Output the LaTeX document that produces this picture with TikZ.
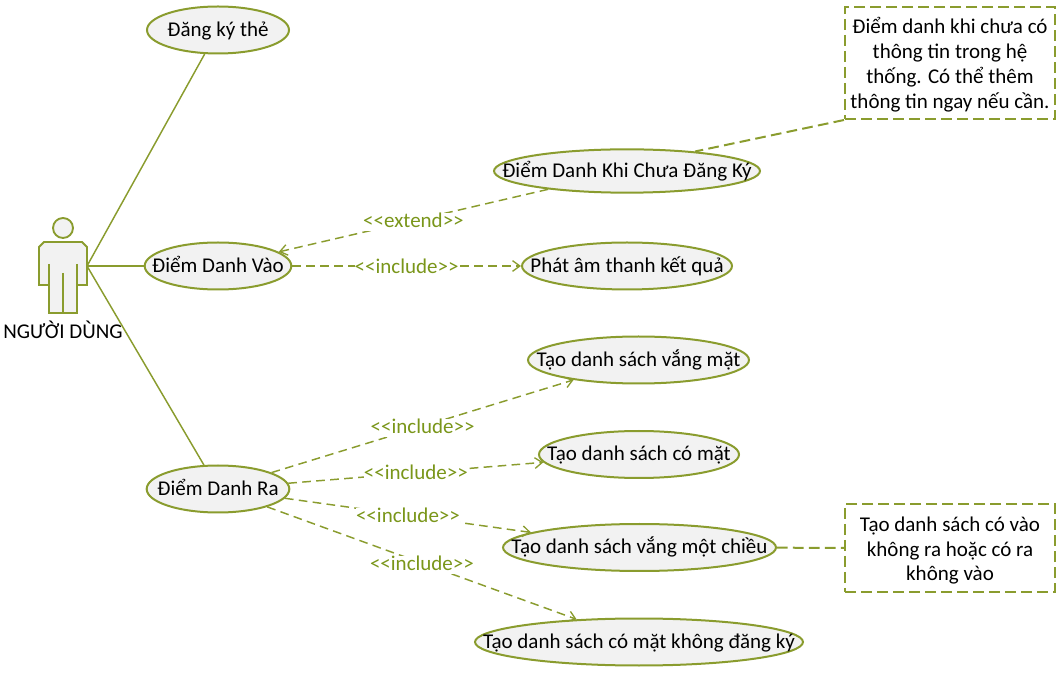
\documentclass[tikz,border=0pt]{standalone}
\usepackage{fontspec}
\setmainfont{Carlito}
\usetikzlibrary{shapes.geometric,arrows.meta}
\definecolor{oliveline}{HTML}{8A9C2E}
\definecolor{olivetext}{HTML}{7A961A}
\definecolor{usefill}{HTML}{F2F2F2}
\newcommand{\uctext}[1]{\makebox[0pt]{\smash{\raisebox{-4.6pt}{#1}}}}
\newcommand{\rltext}[1]{\vphantom{Đgý}#1}
\newcommand{\firstline}{\rule{0pt}{15pt}}
\tikzset{
  usecase/.style={ellipse,draw=oliveline,fill=usefill,line width=1.5pt,inner sep=0pt,minimum height=35.25pt,font=\fontsize{15.75}{18}\selectfont},
  notebox/.style={draw=oliveline,line width=1.5pt,dash pattern=on 8pt off 4pt,fill=white,inner sep=0pt,align=center,font=\fontsize{15.75}{18.6}\selectfont},
  assoc/.style={draw=oliveline,line width=1.1pt},
  rel/.style={draw=oliveline,line width=1.1pt,dash pattern=on 6.5pt off 4pt,-{Straight Barb[length=5.5pt,width=8pt,line width=1pt]}},
  notelink/.style={draw=oliveline,line width=1.5pt,dash pattern=on 8pt off 4pt},
  rellabel/.style={midway,yshift=-1.2pt,fill=white,text=olivetext,inner sep=0pt,font=\fontsize{15.75}{18}\selectfont},
  actorpart/.style={draw=oliveline,line width=1.4pt,fill=usefill,line join=miter}
}
\begin{document}
\begin{tikzpicture}[x=0.75pt,y=-0.75pt]
\useasboundingbox (0,0) rectangle (1061,673);
% actor
\node[circle,actorpart,minimum size=15pt,inner sep=0pt] (head) at (63,228) {};
\draw[actorpart] (44,242) -- (82,242) -- (87,247) -- (87,285) -- (77,285) -- (77,313) -- (49,313) -- (49,285) -- (39,285) -- (39,247) -- cycle;
\draw[actorpart] (49,264) -- (49,285) (77,264) -- (77,285) (63,273) -- (63,313);
\coordinate (hand) at (87,266);
\node[font=\fontsize{15.75}{18}\selectfont,inner sep=0pt] (actorname) at (63,330) {NGƯỜI DÙNG};
% use cases
\node[usecase,minimum width=106.5pt] (dangky) at (218,30) {\uctext{Đăng ký thẻ}};
\node[usecase,minimum width=110pt] (vao) at (218,266) {\uctext{Điểm Danh Vào}};
\node[usecase,minimum width=107pt] (ra) at (218,489) {\uctext{Điểm Danh Ra}};
\node[usecase,minimum width=199.5pt,minimum height=32.5pt] (chuadk) at (627,171) {\uctext{Điểm Danh Khi Chưa Đăng Ký}};
\node[usecase,minimum width=157.5pt] (phatam) at (627,266) {\uctext{Phát âm thanh kết quả}};
\node[usecase,minimum width=165.75pt] (vang) at (638.5,360) {\uctext{Tạo danh sách vắng mặt}};
\node[usecase,minimum width=150pt] (comat) at (639,454.5) {\uctext{Tạo danh sách có mặt}};
\node[usecase,minimum width=204.75pt] (motchieu) at (639.5,547.5) {\uctext{Tạo danh sách vắng một chiều}};
\node[usecase,minimum width=246pt] (khongdk) at (639,642) {\uctext{Tạo danh sách có mặt không đăng ký}};
% notes
\node[notebox,minimum width=157.5pt,minimum height=84pt] (note1) at (950,63) {\firstline Điểm danh khi chưa có\\thông tin trong hệ\\thống. Có thể thêm\\thông tin ngay nếu cần.};
\node[notebox,minimum width=157.5pt,minimum height=66pt] (note2) at (950,548) {\firstline Tạo danh sách có vào\\không ra hoặc có ra\\không vào};
% associations
\draw[assoc] (hand) -- (dangky);
\draw[assoc] (hand) -- (vao);
\draw[assoc] (hand) -- (ra);
% dashed relations
\draw[rel] (chuadk) -- node[rellabel]{\rltext{<{}<extend>{}>}} (vao);
\draw[rel] (vao) -- node[rellabel]{\rltext{<{}<include>{}>}} (phatam);
\draw[rel] (ra) -- node[rellabel]{\rltext{<{}<include>{}>}} (vang);
\draw[rel] (ra) -- node[rellabel]{\rltext{<{}<include>{}>}} (comat);
\draw[rel] (ra) -- node[rellabel]{\rltext{<{}<include>{}>}} (motchieu);
\draw[rel] (ra) -- node[rellabel]{\rltext{<{}<include>{}>}} (khongdk);
% note links
\draw[notelink] (note1.south west) -- (chuadk.16.7);
\draw[notelink] (motchieu) -- (note2);
\end{tikzpicture}
\end{document}
